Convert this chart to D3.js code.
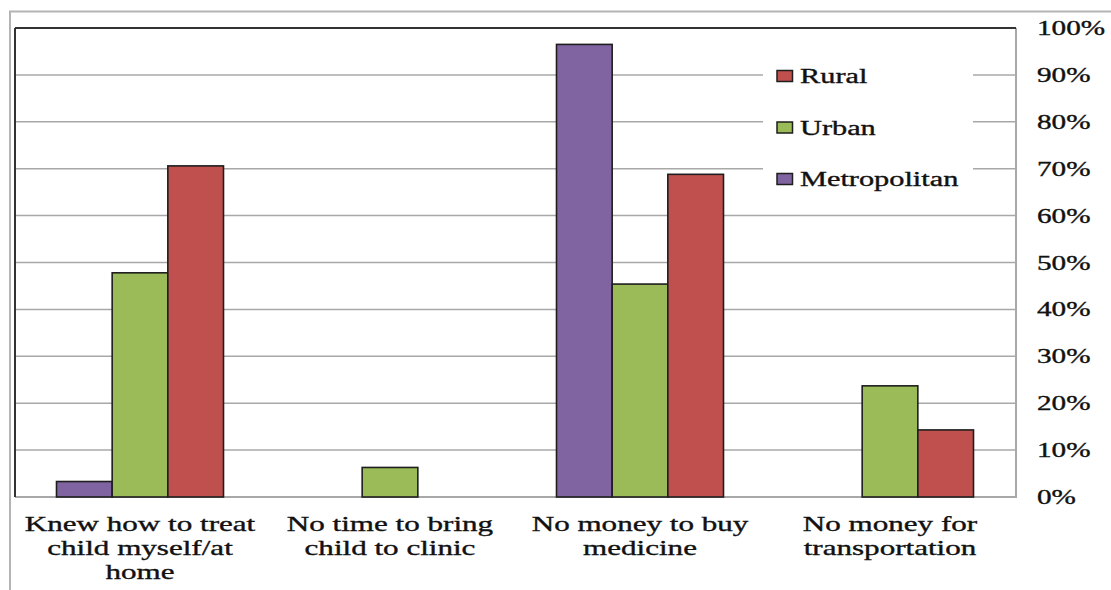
<!DOCTYPE html>
<html>
<head>
<meta charset="utf-8">
<script src="https://cdn.jsdelivr.net/npm/d3@7"></script>
<style>
  html, body { margin: 0; padding: 0; background: #fff; }
  svg { display: block; }
</style>
</head>
<body>
<svg id="chart" width="1111" height="590"></svg>
<script>
// Reasons given for not taking the child to a clinic, by area type
const categories = [
  ["Knew how to treat", "child myself/at", "home"],
  ["No time to bring", "child to clinic"],
  ["No money to buy", "medicine"],
  ["No money for", "transportation"]
];
const seriesNames = ["Metropolitan", "Urban", "Rural"];
const metropolitan = [0.033, 0, 0.965, 0];
const urban = [0.478, 0.063, 0.454, 0.237];
const rural = [0.706, 0, 0.688, 0.143];
const seriesColors = ["#8064A2", "#9BBB59", "#C0504D"];
const legendOrder = ["Rural", "Urban", "Metropolitan"];
const tickValues = [0, 0.1, 0.2, 0.3, 0.4, 0.5, 0.6, 0.7, 0.8, 0.9, 1.0];

const seriesValues = [metropolitan, urban, rural];
const FONT = "'Liberation Serif', 'Times New Roman', Times, 'DejaVu Serif', serif";

const svg = d3.select("#chart");
const plot = { left: 15, right: 1015, top: 28, bottom: 497 };

const catKeys = categories.map((c, i) => i);
const x0 = d3.scaleBand().domain(catKeys).range([plot.left, plot.right]).padding(0);
const groupW = x0.bandwidth() * 0.668;
const x1 = d3.scaleBand().domain(seriesNames)
  .range([(x0.bandwidth() - groupW) / 2, (x0.bandwidth() + groupW) / 2]).padding(0);
const y = d3.scaleLinear().domain([0, 1]).range([plot.bottom, plot.top]);
const color = d3.scaleOrdinal().domain(seriesNames).range(seriesColors);

// wide, slightly heavy serif lettering
function label(sel) {
  return sel.attr("font-family", FONT).attr("fill", "#111")
    .attr("stroke", "#111").attr("stroke-width", 0.35);
}

// outer frame
svg.append("rect").attr("x", 10).attr("y", 11.5).attr("width", 1120).attr("height", 600)
  .attr("fill", "none").attr("stroke", "#b4b4b4").attr("stroke-width", 2);

// gridlines
svg.append("g").selectAll("line").data(tickValues.filter(v => v > 0 && v < 1)).join("line")
  .attr("x1", plot.left).attr("x2", plot.right + 1)
  .attr("y1", d => y(d)).attr("y2", d => y(d))
  .attr("stroke", "#a8a8a8").attr("stroke-width", 1.5);

// plot border
svg.append("line").attr("x1", plot.left).attr("x2", plot.right + 1).attr("y1", y(0)).attr("y2", y(0))
  .attr("stroke", "#a8a8a8").attr("stroke-width", 2);
svg.append("line").attr("x1", plot.right + 1).attr("x2", plot.right + 1).attr("y1", plot.top).attr("y2", plot.bottom + 1)
  .attr("stroke", "#a8a8a8").attr("stroke-width", 2);
svg.append("line").attr("x1", plot.left).attr("x2", plot.right + 1).attr("y1", plot.top).attr("y2", plot.top)
  .attr("stroke", "#333").attr("stroke-width", 1.8);
svg.append("line").attr("x1", plot.left).attr("x2", plot.left).attr("y1", plot.top).attr("y2", plot.bottom)
  .attr("stroke", "#333").attr("stroke-width", 2);

// bars
const groups = svg.append("g").selectAll("g").data(catKeys).join("g")
  .attr("transform", d => `translate(${x0(d)},0)`);
groups.selectAll("rect")
  .data(ci => seriesNames.map((s, si) => ({ s, v: seriesValues[si][ci] })).filter(d => d.v > 0))
  .join("rect")
  .attr("x", d => x1(d.s))
  .attr("width", x1.bandwidth())
  .attr("y", d => y(d.v))
  .attr("height", d => y(0) - y(d.v))
  .attr("fill", d => color(d.s))
  .attr("stroke", "#1e1e1e").attr("stroke-width", 1.6);

// legend
const lg = svg.append("g");
lg.append("rect").attr("x", 763).attr("y", 52).attr("width", 210).attr("height", 150).attr("fill", "#fff");
legendOrder.forEach((name, i) => {
  const cy = 76 + i * 51.5;
  lg.append("rect").attr("x", 777).attr("y", cy - 5.5).attr("width", 15.5).attr("height", 11)
    .attr("fill", color(name)).attr("stroke", "#1e1e1e").attr("stroke-width", 1.5);
  label(lg.append("text")).attr("transform", `translate(800,${cy + 7}) scale(1.48,1)`)
    .attr("font-size", 20.5).text(name);
});

// right value axis labels
const yAxis = svg.append("g");
label(yAxis.selectAll("text").data(tickValues).join("text"))
  .attr("transform", d => `translate(1037,${y(d) + 7}) scale(1.46,1)`)
  .attr("font-size", 20)
  .text(d => d3.format(".0%")(d));

// category labels
const cl = svg.append("g");
categories.forEach((lines, ci) => {
  const cx = x0(ci) + x0.bandwidth() / 2;
  lines.forEach((t, li) => {
    label(cl.append("text"))
      .attr("transform", `translate(${cx},${530.5 + li * 24.3}) scale(1.48,1)`)
      .attr("text-anchor", "middle").attr("font-size", 21).text(t);
  });
});
</script>
</body>
</html>
